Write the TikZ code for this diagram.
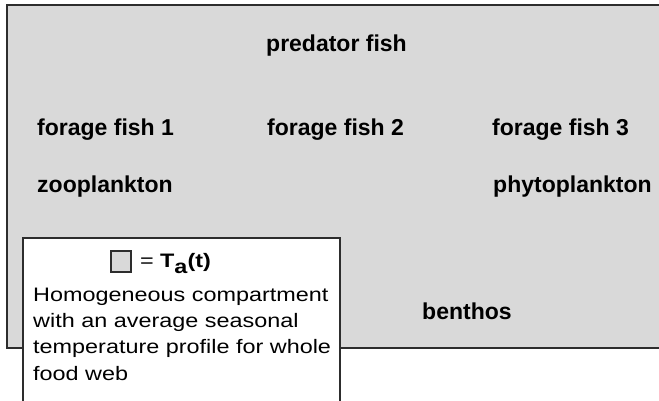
\documentclass[tikz,border=0pt]{standalone}
\usepackage{fontspec}
\setmainfont{Liberation Sans}
\newfontfamily\legfont[FakeStretch=1.2]{Liberation Sans}
\definecolor{webgray}{RGB}{217,217,217}
\definecolor{edgegray}{RGB}{45,45,45}
\begin{document}
\begin{tikzpicture}[x=1pt,y=-1pt,
  lbl/.style={anchor=base west,inner sep=0pt,font=\fontsize{23}{26}\selectfont\bfseries},
  leg/.style={anchor=base west,inner sep=0pt,font=\legfont\fontsize{19.5}{26}\selectfont}]
\useasboundingbox (0,0) rectangle (659,401);
\clip (0,0) rectangle (659,401);
\fill[white] (0,0) rectangle (659,401);
% food web compartment
\draw[fill=webgray,draw=edgegray,line width=2pt] (7,5) rectangle (680,348);
\node[lbl] (pred) at (266,52) {predator fish};
\node[lbl] (ff1) at (37,136) {forage fish 1};
\node[lbl] (ff2) at (267,136) {forage fish 2};
\node[lbl] (ff3) at (492,136) {forage fish 3};
\node[lbl] (zoo) at (37,193) {zooplankton};
\node[lbl] (phy) at (493,193) {phytoplankton};
\node[lbl] (ben) at (422,319) {benthos};
% legend
\draw[fill=white,draw=edgegray,line width=1.3pt] (23,238) rectangle (340,420);
\draw[fill=webgray,draw=edgegray,line width=1.2pt] (111,251) rectangle (131,272) coordinate (sq);
\node[leg] (eq) at (140,267) {=};
\node[anchor=base west,inner sep=0pt,font=\legfont\fontsize{19.5}{26}\selectfont\bfseries] (ta) at (160,267) {T\raisebox{-6pt}{a}(t)};
\node[leg] (l1) at (33,301) {Homogeneous compartment};
\node[leg] (l2) at (33,327) {with an average seasonal};
\node[leg] (l3) at (33,353) {temperature profile for whole};
\node[leg] (l4) at (33,380) {food web};
\end{tikzpicture}
\end{document}
